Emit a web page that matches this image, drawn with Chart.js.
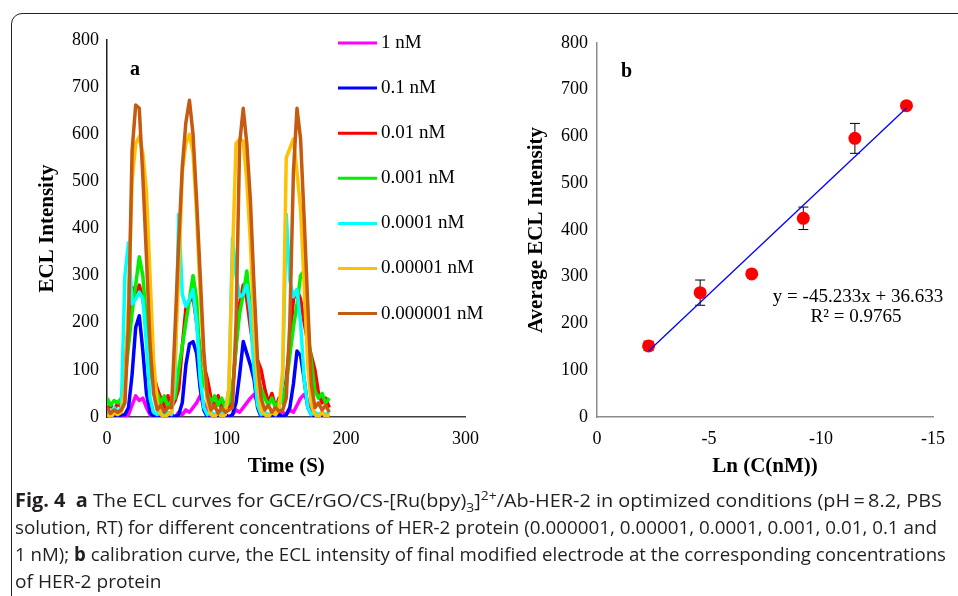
<!DOCTYPE html>
<html>
<head>
<meta charset="utf-8">
<script src="https://cdn.jsdelivr.net/npm/chart.js@4.4.0/dist/chart.umd.min.js"></script>
<style>
  body { margin: 0; background: #fff; width: 958px; height: 596px; overflow: hidden; position: relative; }
  .frame { position: absolute; left: 11px; top: 13px; width: 1000px; height: 700px; border: 1.5px solid #222; border-radius: 11px; }
  canvas { position: absolute; top: 0; }
  #chartA { left: 0; }
  #chartB { left: 490px; }
  .caption { position: absolute; left: 15px; top: 487px; font-family: "Open Sans", sans-serif; font-size: 19px; line-height: 27px; color: #231f20; }
  .caption div { white-space: nowrap; width: max-content; transform-origin: 0 50%; }
  .caption sub, .caption sup { font-size: 0.7em; line-height: 0; }
</style>
</head>
<body>
<div class="frame"></div>
<canvas id="chartA" width="490" height="490"></canvas>
<canvas id="chartB" width="468" height="490"></canvas>
<div class="caption" id="caption">
  <div><b>Fig. 4</b>&nbsp; <b>a</b> The ECL curves for GCE/rGO/CS-[Ru(bpy)<sub>3</sub>]<sup>2+</sup>/Ab-HER-2 in optimized conditions (pH&thinsp;=&thinsp;8.2, PBS</div>
  <div>solution, RT) for different concentrations of HER-2 protein (0.000001, 0.00001, 0.0001, 0.001, 0.01, 0.1 and</div>
  <div>1 nM); <b>b</b> calibration curve, the ECL intensity of final modified electrode at the corresponding concentrations</div>
  <div>of HER-2 protein</div>
</div>
<script>
// --- chart a: ECL curves, time in seconds
const timeS = [0,3,6,9,12,15,18,21,24,27,30,33,36,39,42,45,48,51,54,57,60,63,66,69,72,75,78,81,84,87,90,93,96,99,102,105,108,111,114,117,120,123,126,129,132,135,138,141,144,147,150,153,156,159,162,165,168,171,174,177,180,183,186];

const ecl1nM = [0,0,5,0,0,0,5,25,45,35,40,20,5,0,5,0,0,5,0,0,10,5,15,10,20,30,45,30,10,0,5,0,0,5,0,5,15,10,20,30,40,48,30,5,0,5,0,0,5,10,5,15,10,25,40,48,30,10,0,0,0,0,0];
const ecl01nM = [5,0,5,0,5,5,20,90,190,215,140,50,10,0,5,0,5,0,5,0,5,30,110,155,160,135,60,15,0,5,0,5,0,5,0,5,30,90,160,135,110,80,20,0,5,0,5,0,5,0,5,20,70,140,130,80,20,5,0,5,0,0,0];
const ecl001nM = [15,25,15,30,20,100,200,275,260,280,250,200,150,90,60,40,20,45,20,35,60,150,230,245,255,200,140,110,80,40,20,45,15,30,20,50,150,240,280,250,190,140,120,100,60,30,50,20,40,30,80,160,250,270,250,200,160,130,100,50,30,40,20];
const ecl0001nM = [40,25,35,30,40,80,150,220,280,340,300,200,95,70,50,30,45,20,35,40,100,150,200,250,300,250,110,70,50,30,45,25,40,20,30,60,150,220,260,310,230,130,85,60,40,25,40,20,35,30,70,130,190,240,300,310,180,120,55,40,50,30,40];
const ecl00001nM = [15,10,20,10,20,300,370,240,250,265,250,155,40,10,5,10,5,10,5,80,430,260,235,250,270,200,80,20,5,10,5,10,5,15,60,380,300,255,260,280,220,100,25,5,10,5,10,5,15,80,430,290,255,270,200,80,20,5,10,5,10,5,10];
const ecl000001nM = [5,0,8,5,10,60,250,500,580,595,560,480,300,120,30,5,0,5,10,120,300,520,580,600,560,430,260,120,30,5,0,10,0,5,60,340,580,590,585,500,370,190,70,15,5,0,10,5,20,100,550,570,590,520,440,280,110,25,5,0,10,0,5];
const ecl0000001nM = [20,8,15,10,15,30,200,565,662,655,510,340,156,50,15,25,10,20,20,190,370,530,625,672,600,460,300,140,45,15,25,8,20,10,15,20,200,580,655,580,460,280,120,40,15,25,10,20,12,15,40,200,520,655,590,420,240,70,20,30,15,25,10];

const seriesNames = ["1 nM", "0.1 nM", "0.01 nM", "0.001 nM", "0.0001 nM", "0.00001 nM", "0.000001 nM"];
const seriesValues = [ecl1nM, ecl01nM, ecl001nM, ecl0001nM, ecl00001nM, ecl000001nM, ecl0000001nM];
const seriesColors = ["#FF00FF", "#0000FF", "#FF0000", "#00F000", "#00FFFF", "#FFC000", "#C55A11"];

// --- chart b: calibration
const lnConc = [-2.303, -4.605, -6.908, -9.210, -11.513, -13.816];
const avgIntensity = [152, 266, 306, 425, 596, 666];
const errIntensity = [10, 27, 5, 24, 32, 6];
const trendX = [-2.303, -13.816];
const trendY = [141, 661];

const yTicks = [0, 100, 200, 300, 400, 500, 600, 700, 800];

Chart.defaults.font.family = '"Liberation Serif", "Times New Roman", serif';
Chart.defaults.color = '#000';

const serif = '"Liberation Serif", "Times New Roman", serif';

const legendA = {
    id: 'legendA',
    afterDraw(chart) {
        const ctx = chart.ctx;
        ctx.save();
        ctx.font = '19px ' + serif;
        ctx.textBaseline = 'middle';
        ctx.textAlign = 'left';
        ctx.fillStyle = '#000';
        seriesNames.forEach((name, i) => {
            const y = 43 + i * 45.1;
            ctx.strokeStyle = seriesColors[i];
            ctx.lineWidth = 3;
            ctx.beginPath();
            ctx.moveTo(338, y);
            ctx.lineTo(377, y);
            ctx.stroke();
            ctx.fillText(name, 381, y);
        });
        ctx.font = 'bold 20px ' + serif;
        ctx.fillText('a', 130, 70);
        ctx.restore();
    }
};

new Chart(document.getElementById('chartA'), {
    type: 'line',
    data: {
        datasets: seriesValues.map((vals, i) => ({
            label: seriesNames[i],
            data: timeS.map((t, j) => ({ x: t, y: vals[j] })),
            borderColor: seriesColors[i],
            borderWidth: 3.5,
            pointRadius: 0,
            tension: 0,
            borderJoinStyle: 'round',
            order: seriesValues.length - i
        }))
    },
    options: {
        responsive: false,
        animation: false,
        layout: { padding: { top: 40, right: 22, left: 0, bottom: 0 } },
        plugins: { legend: { display: false }, tooltip: { enabled: false } },
        scales: {
            x: {
                type: 'linear', min: 0, max: 300,
                ticks: { stepSize: 100, padding: 11, font: { size: 18 } },
                grid: { display: false, drawTicks: false },
                border: { color: '#404040', width: 1.5 },
                title: { display: true, text: 'Time (S)', font: { size: 21, weight: 'bold' }, padding: { top: 0, bottom: 11 } },
                afterFit: s => { s.height = 73; }
            },
            y: {
                min: 0, max: 800,
                afterBuildTicks: s => { s.ticks = yTicks.map(v => ({ value: v })); },
                ticks: { padding: 8, font: { size: 18 } },
                grid: { display: false, drawTicks: false },
                border: { color: '#202020', width: 1.5 },
                title: { display: true, text: 'ECL Intensity', font: { size: 21, weight: 'bold' }, padding: { top: 35, bottom: 0 } },
                afterFit: s => { s.width = 107; }
            }
        }
    },
    plugins: [legendA]
});

const errorBars = {
    id: 'errorBars',
    beforeDatasetsDraw(chart) {
        const { ctx, scales: { x, y } } = chart;
        ctx.save();
        ctx.strokeStyle = '#000';
        ctx.lineWidth = 1;
        lnConc.forEach((c, i) => {
            const px = x.getPixelForValue(c);
            const top = y.getPixelForValue(avgIntensity[i] + errIntensity[i]);
            const bot = y.getPixelForValue(avgIntensity[i] - errIntensity[i]);
            ctx.beginPath();
            ctx.moveTo(px, top); ctx.lineTo(px, bot);
            ctx.moveTo(px - 5, top); ctx.lineTo(px + 5, top);
            ctx.moveTo(px - 5, bot); ctx.lineTo(px + 5, bot);
            ctx.stroke();
        });
        ctx.restore();
    },
    afterDraw(chart) {
        const ctx = chart.ctx;
        ctx.save();
        ctx.fillStyle = '#000';
        ctx.textBaseline = 'middle';
        ctx.font = 'bold 20px ' + serif;
        ctx.textAlign = 'left';
        ctx.fillText('b', 131, 72);
        ctx.font = '19px ' + serif;
        ctx.textAlign = 'center';
        ctx.fillText('y = -45.233x + 36.633', 368, 297);
        ctx.fillText('R\u00B2 = 0.9765', 366, 317);
        ctx.restore();
    }
};

new Chart(document.getElementById('chartB'), {
    type: 'scatter',
    data: {
        datasets: [
            {
                label: 'trend',
                data: trendX.map((x, i) => ({ x: x, y: trendY[i] })),
                showLine: true,
                borderColor: '#0000FF',
                borderWidth: 1.3,
                pointRadius: 0,
                order: 0
            },
            {
                label: 'Average ECL Intensity',
                data: lnConc.map((x, i) => ({ x: x, y: avgIntensity[i] })),
                backgroundColor: '#FF0000',
                borderWidth: 0,
                pointRadius: 6.5,
                order: 1
            }
        ]
    },
    options: {
        responsive: false,
        animation: false,
        layout: { padding: { top: 43, right: 25, left: 0, bottom: 0 } },
        plugins: { legend: { display: false }, tooltip: { enabled: false } },
        scales: {
            x: {
                type: 'linear', min: -15, max: 0, reverse: true,
                ticks: { stepSize: 5, padding: 11, font: { size: 18 } },
                grid: { display: false, drawTicks: false },
                border: { color: '#8c8c8c', width: 1.5 },
                title: { display: true, text: 'Ln (C(nM))', font: { size: 21, weight: 'bold' }, padding: { top: 0, bottom: 11 } },
                afterFit: s => { s.height = 73; }
            },
            y: {
                min: 0, max: 800,
                afterBuildTicks: s => { s.ticks = yTicks.map(v => ({ value: v })); },
                ticks: { padding: 9, font: { size: 18 } },
                grid: { display: false, drawTicks: false },
                border: { color: '#8c8c8c', width: 1.5 },
                title: { display: true, text: 'Average ECL Intensity', font: { size: 21, weight: 'bold' }, padding: { top: 34, bottom: 0 } },
                afterFit: s => { s.width = 107; }
            }
        }
    },
    plugins: [errorBars]
});

// squeeze caption lines to the widths of the printed figure
const lineWidths = [927, 922, 931];
const lines = document.querySelectorAll('#caption div');
let scales = [];
lineWidths.forEach((w, i) => {
    const k = w / lines[i].getBoundingClientRect().width;
    scales.push(k);
    lines[i].style.transform = 'scaleX(' + k + ')';
});
const avgK = scales.reduce((a, b) => a + b, 0) / scales.length;
lines[3].style.transform = 'scaleX(' + avgK + ')';
</script>
</body>
</html>
